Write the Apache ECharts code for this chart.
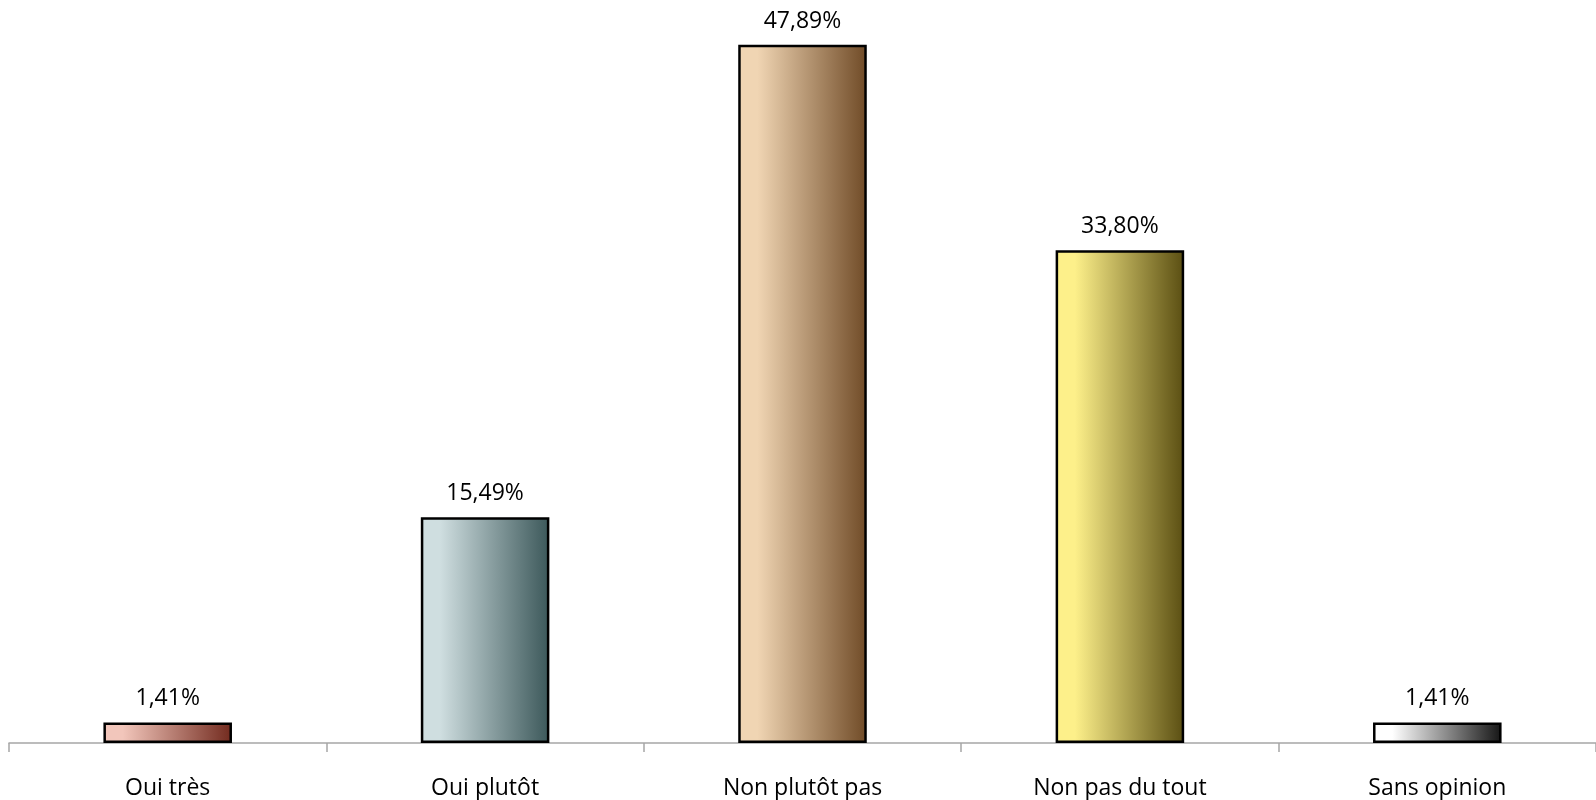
<!DOCTYPE html>
<html><head><meta charset="utf-8">
<script src="https://cdn.jsdelivr.net/npm/echarts@6/dist/echarts.min.js"></script>
<style>html,body{margin:0;padding:0;background:#fff}#c{width:1596px;height:800px}</style>
</head><body><div id="c"></div>
<script>
var categories = ["Oui très", "Oui plutôt", "Non plutôt pas", "Non pas du tout", "Sans opinion"];
var values = [1.41, 15.49, 47.89, 33.80, 1.41];
var lightColors = ["#f2c6bb", "#cfdee0", "#f0d5b3", "#fdf08a", "#ffffff"];
var darkColors = ["#722a1e", "#3c585a", "#704b27", "#5a4e12", "#151515"];

function grad(i){
  return new echarts.graphic.LinearGradient(0,0,1,0,[
    {offset:0,color:lightColors[i]},
    {offset:0.15,color:lightColors[i]},
    {offset:1,color:darkColors[i]}
  ]);
}
var chart = echarts.init(document.getElementById('c'));
chart.setOption({
  animation:false,
  grid:{left:9,right:0,top:14,bottom:57,containLabel:false},
  xAxis:{type:'category',data:categories,
    axisLine:{lineStyle:{color:'#a6a6a6',width:1.5}},
    axisTick:{show:true,length:9,lineStyle:{color:'#a6a6a6',width:1.5}},
    axisLabel:{color:'#000',fontSize:23,fontFamily:'"Open Sans", "Noto Sans", sans-serif',margin:34}
  },
  yAxis:{type:'value',min:0,max:50,show:false,splitLine:{show:false}},
  series:[{type:'bar',barWidth:'40.5%',
    data:values.map(function(v,i){return {value:v,itemStyle:{color:grad(i),borderColor:'#000',borderWidth:2.5}};}),
    label:{show:true,position:'top',distance:12,color:'#000',fontSize:23,
      fontFamily:'"Open Sans", "Noto Sans", sans-serif',
      formatter:function(p){return p.value.toFixed(2).replace('.',',')+'%';}}
  }]
});
</script></body></html>
